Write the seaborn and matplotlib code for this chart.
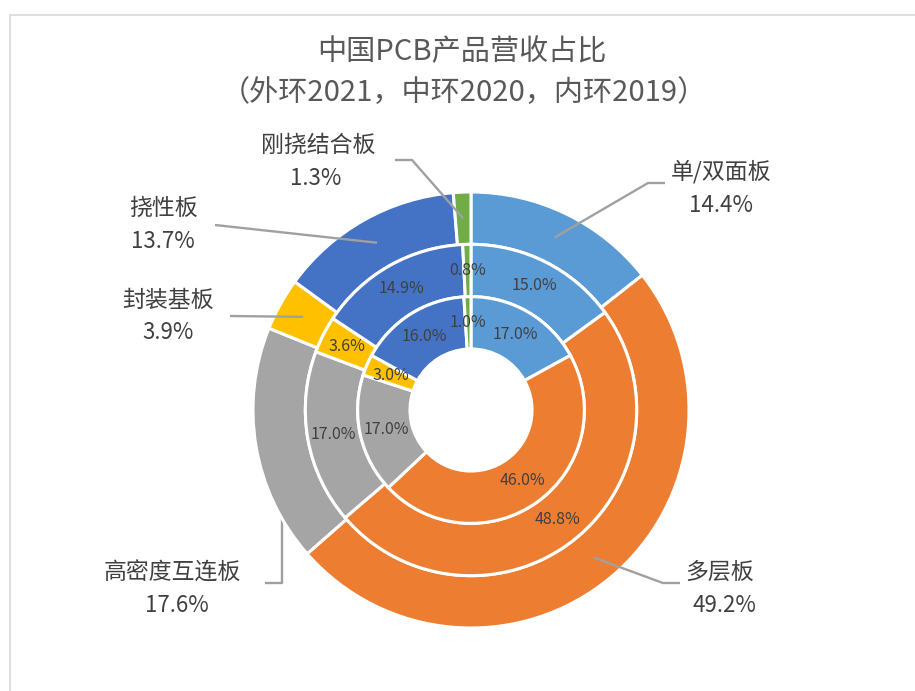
import matplotlib
matplotlib.use("Agg")
import matplotlib.pyplot as plt
from matplotlib.lines import Line2D
import numpy as np
import seaborn as sns

categories = ["单/双面板", "多层板", "高密度互连板", "封装基板", "挠性板", "刚挠结合板"]
outer_2021 = [14.4, 49.2, 17.6, 3.9, 13.7, 1.3]
middle_2020 = [15.0, 48.8, 17.0, 3.6, 14.9, 0.8]
inner_2019 = [17.0, 46.0, 17.0, 3.0, 16.0, 1.0]
title_lines = ["中国PCB产品营收占比", "（外环2021，中环2020，内环2019）"]

sns.set_theme(style="white")
plt.rcParams['font.family'] = ['Noto Sans CJK SC', 'DejaVu Sans']
colors = sns.color_palette(["#5B9BD5", "#ED7D31", "#A5A5A5", "#FFC000", "#4472C4", "#70AD47"])

W, H = 915, 691
CX, CY, R = 471, 410, 218
fig = plt.figure(figsize=(W / 100, H / 100), dpi=100)
ax = fig.add_axes([0, 0, 1, 1])


def P(px, py):
    return ((px - CX) / R, (CY - py) / R)


width = 0.24
rings = [(outer_2021, 1.0), (middle_2020, 0.76), (inner_2019, 0.52)]
ring_wedges = []
for vals, rad in rings:
    wedges, _ = ax.pie(vals, radius=rad, colors=colors, startangle=90, counterclock=False,
                       wedgeprops=dict(width=width, edgecolor="white", linewidth=2.2))
    ring_wedges.append((wedges, vals, rad))


def mid_point(w, r):
    ang = np.deg2rad((w.theta1 + w.theta2) / 2)
    return r * np.cos(ang), r * np.sin(ang)


# inner/middle percentage labels
for wedges, vals, rad in ring_wedges[1:]:
    rm = rad - width / 2
    for w, v in zip(wedges, vals):
        x, y = mid_point(w, rm)
        ax.text(x, y, f"{v:.1f}%", ha="center", va="center", fontsize=11.5, color="#404040")

# outer labels with leader lines
layout = {
    0: dict(path=[(648, 183), (665, 183)], name=(721, 172), pct=(721, 205)),
    1: dict(path=[(663, 583), (680, 583)], name=(720, 572), pct=(724, 605)),
    2: dict(path=[(282, 583), (265, 583)], name=(172, 573), pct=(177, 605)),
    3: dict(path=[(230, 316)], name=(168, 300), pct=(168, 332)),
    4: dict(path=[(215, 225)], name=(163, 208), pct=(163, 241)),
    5: dict(path=[(412, 160), (395, 160)], name=(318, 145), pct=(316, 178)),
}
outer_wedges = ring_wedges[0][0]
for i, (w, v, name) in enumerate(zip(outer_wedges, outer_2021, categories)):
    x0, y0 = mid_point(w, 1.0 - width / 2)
    lay = layout[i]
    pts = [(x0, y0)] + [P(*p) for p in lay["path"]]
    z = 2
    if i == 2:
        pts[1] = (x0, pts[1][1])
        z = 0.5  # hidden under its own gray wedge, like the reference
    xs, ys = zip(*pts)
    ax.plot(xs, ys, color="#A0A0A0", lw=1.7, solid_capstyle="butt", zorder=z)
    ax.text(*P(*lay["name"]), name, ha="center", va="center", fontsize=16.5, color="#404040")
    ax.text(*P(*lay["pct"]), f"{v:.1f}%", ha="center", va="center", fontsize=16, color="#404040")

ax.text(*P(462, 52), title_lines[0], ha="center", va="center", fontsize=21, color="#595959")
ax.text(*P(464, 93), title_lines[1], ha="center", va="center", fontsize=21, color="#595959")

ax.set_xlim(-CX / R, (W - CX) / R)
ax.set_ylim(-(H - CY) / R, CY / R)
ax.set_aspect("auto")
ax.axis("off")

# frame
fig.add_artist(Line2D([10 / W, 10 / W], [0, 1 - 15 / H], transform=fig.transFigure, color="#D9D9D9", lw=1.2))
fig.add_artist(Line2D([10 / W, 1], [1 - 15 / H, 1 - 15 / H], transform=fig.transFigure, color="#D9D9D9", lw=1.2))

fig.savefig("out.png", dpi=100, facecolor="white")
